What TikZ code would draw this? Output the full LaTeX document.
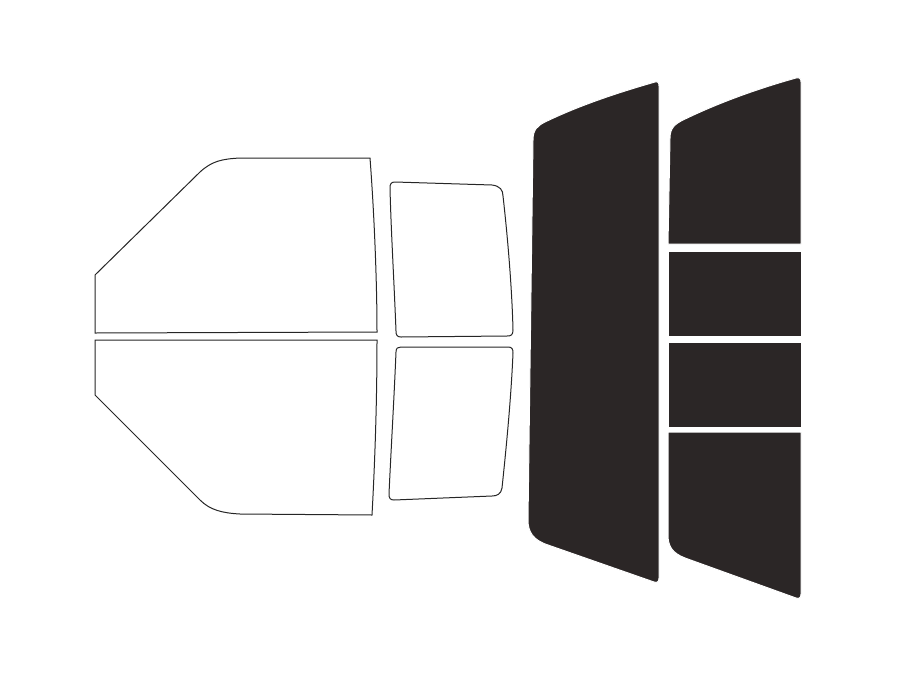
\documentclass[tikz,border=0pt]{standalone}
\begin{document}
\begin{tikzpicture}[x=1pt,y=-1pt]
\tikzstyle{clear glass}=[draw=black!85,line width=1pt,fill=white]
\tikzstyle{dark glass}=[draw=white,line width=1pt,fill={rgb,255:red,43;green,38;blue,38}]
\useasboundingbox (0,0) rectangle (900,675);
% front door
\draw[clear glass] (95,275) -- (200,172) .. controls (212,161) and (222,159) .. (240,158)
  -- (370,158) .. controls (374,210) and (377,280) .. (377,332) -- (95,333) -- cycle;
\draw[clear glass] (95,340) -- (377,340) .. controls (377,400) and (375,460) .. (372,515)
  -- (240,514) .. controls (222,513) and (210,510) .. (200,500) -- (95,395) -- cycle;
% rear door
\draw[clear glass] (395,182) -- (492,185) .. controls (500,186) and (503,190) .. (503,196)
  .. controls (508,240) and (512,290) .. (513,330) .. controls (513,335) and (511,336) .. (507,336)
  -- (401,337) .. controls (397,337) and (396,335) .. (396,331)
  .. controls (394,280) and (391,230) .. (390,188) .. controls (390,184) and (391,182) .. (395,182) -- cycle;
\draw[clear glass] (401,347) -- (508,347) .. controls (512,347) and (513,349) .. (513,353)
  .. controls (511,400) and (506,450) .. (502,488) .. controls (501,494) and (497,496) .. (492,496)
  -- (394,500) .. controls (390,500) and (389,498) .. (389,494)
  .. controls (391,450) and (394,400) .. (396,352) .. controls (396,348) and (398,347) .. (401,347) -- cycle;
% back glass
\draw[dark glass] (545,122) .. controls (580,105) and (620,92) .. (655,82)
  .. controls (658,81) and (659,83) .. (659,86) -- (659,578)
  .. controls (659,582) and (657,583) .. (654,582) -- (548,545)
  .. controls (533,540) and (528,532) .. (528,520) -- (533,140)
  .. controls (533,130) and (537,126) .. (545,122) -- cycle;
\draw[dark glass] (683,120) .. controls (720,102) and (760,88) .. (796,78)
  .. controls (800,77) and (801,79) .. (801,82) -- (801,244) -- (668,244) -- (670,138)
  .. controls (670,128) and (675,124) .. (683,120) -- cycle;
\draw[dark glass] (668,251) rectangle (801,336);
\draw[dark glass] (668,342) rectangle (801,427);
\draw[dark glass] (668,432) -- (801,432) -- (801,594)
  .. controls (801,598) and (799,599) .. (796,598) -- (685,558)
  .. controls (672,553) and (668,546) .. (668,535) -- cycle;
\end{tikzpicture}
\end{document}
